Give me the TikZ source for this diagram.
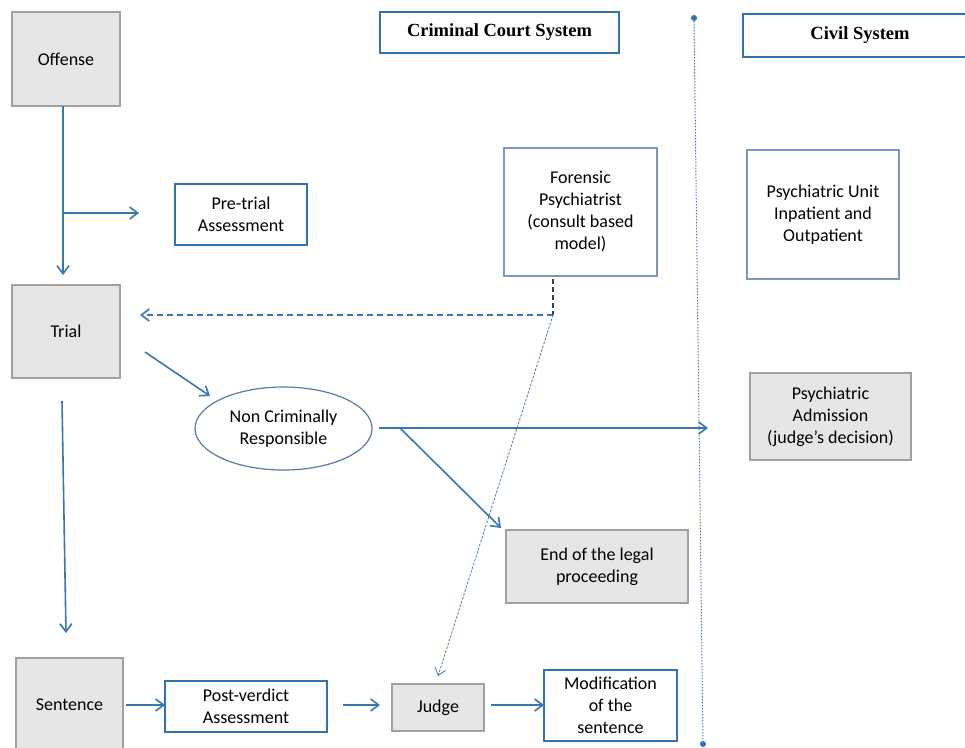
\documentclass[tikz,border=0pt]{standalone}
\usepackage{fontspec}
\setmainfont{Carlito}
\newfontfamily\titlefont{Liberation Serif}
\usetikzlibrary{arrows.meta,shapes.geometric,calc}
\definecolor{arrblue}{HTML}{3A76B0}
\definecolor{boxblue}{HTML}{2E74B5}
\definecolor{thinblue}{HTML}{7E97C2}
\definecolor{ellblue}{HTML}{5A7BA5}
\definecolor{grayfill}{HTML}{E6E6E6}
\definecolor{grayline}{HTML}{A0A0A0}
\definecolor{dotblue}{HTML}{4A78AE}
\tikzset{
  txt/.style={font=\fontsize{18}{22}\selectfont, align=center, inner sep=0pt, outer sep=0pt},
  graybox/.style={txt, rectangle, draw=grayline, fill=grayfill, line width=1.4pt},
  bluebox/.style={txt, rectangle, draw=boxblue, fill=white, line width=2pt},
  thinbox/.style={txt, rectangle, draw=thinblue, fill=white, line width=1.3pt},
  titlebox/.style={rectangle, draw=boxblue, fill=white, line width=2pt, inner sep=0pt,
    font=\titlefont\bfseries\fontsize{18.5}{22}\selectfont},
  arrowtip/.style={-{Straight Barb[length=8pt,width=12pt,line width=1.6pt]}},
  arr/.style={arrblue, line width=1.6pt, arrowtip},
}
\begin{document}
\begin{tikzpicture}[x=1pt,y=-1pt]
\clip (0,0) rectangle (965,747);
\fill[white] (0,0) rectangle (965,747);

% nodes
\node[graybox, minimum width=108pt, minimum height=94pt] (offense) at (66,59) {Offense};
\node[bluebox, minimum width=132pt, minimum height=61pt] (pretrial) at (241,214.5) {Pre-trial\\Assessment};
\node[graybox, minimum width=108pt, minimum height=93pt] (trial) at (66,331.5) {Trial};
\node[graybox, minimum width=107pt, minimum height=94pt] (sentence) at (69.5,705) {Sentence};
\node[bluebox, minimum width=162pt, minimum height=51pt] (post) at (246,706.5) {Post-verdict\\Assessment};
\node[graybox, minimum width=92pt, minimum height=47pt] (judge) at (438,707.5) {Judge};
\node[bluebox, minimum width=133pt, minimum height=71pt] (modif) at (610.5,705.5) {Modification\\of the\\sentence};
\node[graybox, minimum width=182pt, minimum height=73pt] (endlp) at (597,566.5) {End of the legal\\proceeding};
\node[thinbox, minimum width=153pt, minimum height=128pt] (forensic) at (580.5,212) {Forensic\\Psychiatrist\\(consult based\\model)};
\node[thinbox, minimum width=152pt, minimum height=129pt] (unit) at (823,214.5) {Psychiatric Unit\\Inpatient and\\Outpatient};
\node[graybox, minimum width=161pt, minimum height=87pt] (admission) at (830.5,416.5) {Psychiatric\\Admission\\(judge’s decision)};
\node[titlebox, minimum width=239pt, minimum height=41pt] (criminal) at (499.5,32.5) {Criminal Court System};
\node[titlebox, minimum width=234pt, minimum height=43pt] (civil) at (860,35.5) {Civil System};
\node[txt, ellipse, draw=ellblue, line width=1.2pt, minimum width=177pt, minimum height=83pt] (ncr) at (283.5,428.5) {Non Criminally\\Responsible};

% divider
\coordinate (divtop) at (694,18);
\coordinate (divbot) at (703,744);
\draw[dotblue, line width=1pt, dash pattern=on 1.5pt off 1.5pt] (divtop) -- (divbot);
\fill[boxblue] (divtop) circle (3pt);
\fill[boxblue] (divbot) circle (3pt);

% coordinates
\coordinate (br) at (63,213);
\coordinate (trialout) at (145,352);
\coordinate (ncrin) at (210,396);
\coordinate (trialdown) at (62,401);
\coordinate (sentin) at (66,633);
\coordinate (ncrout) at (379,428);
\coordinate (split) at (400,428);
\coordinate (admin) at (708,428);
\coordinate (endin) at (501,528);
\coordinate (fj) at (553,315);
\coordinate (trialin) at (140,315);
\coordinate (judgein) at (438,676);
\coordinate (lowrow) at (0,705);

% connectors
\draw[arr, shorten >=10pt] (offense.south -| br) -- (trial.north -| br);
\draw[arr, shorten >=36pt] (br) -- (br -| pretrial.west);
\draw[arr] (trialout) -- (ncrin);
\draw[arr] (trialdown) -- (sentin);
\draw[arr] (ncrout) -- (admin);
\draw[arr] (split) -- (endin);
\draw[arr, shorten <=3pt] (sentence.east |- lowrow) -- (post.west |- lowrow);
\draw[arr, shorten <=16pt, shorten >=12pt] (post.east |- lowrow) -- (judge.west |- lowrow);
\draw[arr, shorten <=7pt] (judge.east |- lowrow) -- (modif.west |- lowrow);
\draw[black!75, line width=1.3pt, dash pattern=on 5pt off 3pt, shorten <=3pt] (forensic.south -| fj) -- (fj);
\draw[arrblue, line width=1.3pt, dash pattern=on 6pt off 4pt, arrowtip] (fj) -- (trialin);
\draw[dotblue, line width=0.8pt, dash pattern=on 2.5pt off 1.5pt, -{Straight Barb[length=7pt,width=11pt,line width=0.8pt]}] (fj) -- (judgein);
\end{tikzpicture}
\end{document}
